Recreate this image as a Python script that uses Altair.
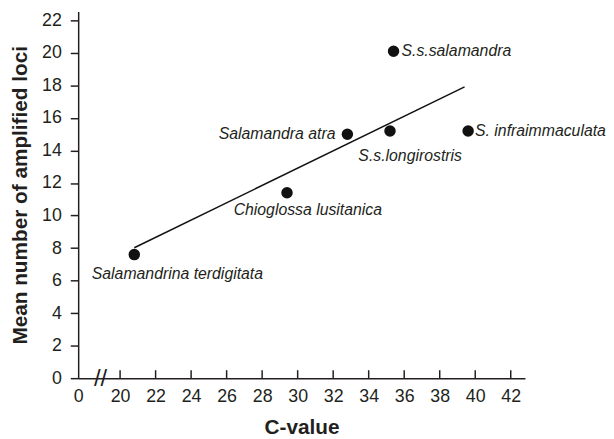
import altair as alt
import pandas as pd

species = [
    "Salamandrina terdigitata",
    "Chioglossa lusitanica",
    "Salamandra atra",
    "S.s.longirostris",
    "S.s.salamandra",
    "S. infraimmaculata",
]
c_value = [20.8, 29.4, 32.8, 35.2, 35.4, 39.6]
mean_loci = [7.6, 11.4, 15.0, 15.2, 20.1, 15.2]

x_tick_labels = [0, 20, 22, 24, 26, 28, 30, 32, 34, 36, 38, 40, 42]
x_tick_marks = [20, 22, 24, 26, 28, 30, 32, 34, 36, 38, 40, 42]
y_tick_labels = [0, 2, 4, 6, 8, 10, 12, 14, 16, 18, 20, 22]
fit_extent = [20.8, 39.4]
break_pos = [10.7]

df = pd.DataFrame({"species": species, "C": c_value, "loci": mean_loci})
ticks_df = pd.DataFrame({"C": x_tick_marks, "loci": [0.0] * len(x_tick_marks), "top": [0.49] * len(x_tick_marks)})
break_df = pd.DataFrame({"C": break_pos, "loci": [0.0], "txt": ["//"]})

INK = "#231f20"
FONT = "Liberation Sans"

xscale = alt.Scale(domain=[0, 20, 42.8], range=[0, 42.4, 452], nice=False, zero=False)
yscale = alt.Scale(domain=[0, 22.55], nice=False, zero=False)

xaxis = alt.Axis(
    values=x_tick_labels,
    title="C-value",
    ticks=False,
    tickSize=0,
    labelPadding=10,
    titlePadding=11,
    labelFlush=False,
    labelOverlap=False,
)
yaxis = alt.Axis(
    values=y_tick_labels,
    title="Mean number of amplified loci",
    tickSize=8,
    labelPadding=9,
    titlePadding=11,
    labelFlush=False,
    labelOverlap=False,
)

X = alt.X("C:Q", scale=xscale, axis=xaxis)
Y = alt.Y("loci:Q", scale=yscale, axis=yaxis)

base = alt.Chart(df)

points = base.mark_circle(size=135, color="#111111", opacity=1).encode(x=X, y=Y)

fit = (
    base.transform_regression("C", "loci", extent=fit_extent)
    .mark_line(color="#111111", strokeWidth=1.5)
    .encode(x=X, y=Y)
)


def label(name, align, dx, dy):
    return (
        base.transform_filter(alt.datum.species == name)
        .mark_text(
            align=align,
            baseline="alphabetic",
            dx=dx,
            dy=dy,
            font=FONT,
            fontSize=16,
            fontStyle="italic",
            color=INK,
        )
        .encode(x=X, y=Y, text="species:N")
    )


labels = [
    label("Salamandrina terdigitata", "left", -43, 25),
    label("Chioglossa lusitanica", "left", -54, 22),
    label("Salamandra atra", "right", -12, 5),
    label("S.s.longirostris", "left", -32, 30),
    label("S.s.salamandra", "left", 8, 5),
    label("S. infraimmaculata", "left", 7, 5),
]

xticks = (
    alt.Chart(ticks_df)
    .mark_rule(color=INK, strokeWidth=1.5)
    .encode(x=X, y=Y, y2="top:Q")
)

brk = (
    alt.Chart(break_df)
    .mark_text(font=FONT, fontSize=24, color=INK, align="center", baseline="middle", dy=1)
    .encode(x=X, y=Y, text="txt:N")
)

chart = (
    alt.layer(points, fit, xticks, brk, *labels)
    .properties(
        width=452,
        height=371,
        autosize=alt.AutoSizeParams(type="none"),
        padding={"left": 71, "top": 1, "right": 82, "bottom": 57},
        background="white",
    )
    .configure_view(stroke=None)
    .configure_axis(
        grid=False,
        labelOverlap=False,
        domainColor=INK,
        domainWidth=1.5,
        tickColor=INK,
        tickWidth=1.5,
        labelFont=FONT,
        labelFontSize=18,
        labelColor=INK,
        titleFont=FONT,
        titleFontSize=21,
        titleFontWeight="bold",
        titleColor=INK,
    )
)

chart.save("out.html", embed_options={"renderer": "svg", "actions": False})
